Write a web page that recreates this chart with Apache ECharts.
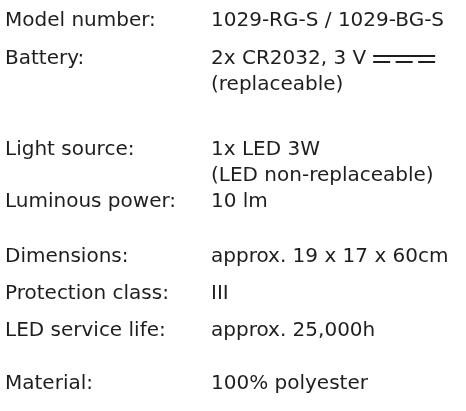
<!DOCTYPE html>
<html>
<head>
<meta charset="utf-8">
<script src="https://cdn.jsdelivr.net/npm/echarts@6/dist/echarts.min.js"></script>
<style>
  html, body { margin: 0; padding: 0; background: #fff; }
  #main { width: 466px; height: 411px; }
</style>
</head>
<body>
<div id="main"></div>
<script>
// spec sheet rows
const labels = ['Model number:', 'Battery:', 'Light source:', 'Luminous power:',
  'Dimensions:', 'Protection class:', 'LED service life:', 'Material:'];
const values = [
  ['1029-RG-S / 1029-BG-S'],
  ['2x CR2032, 3 V', '(replaceable)'],
  ['1x LED 3W', '(LED non-replaceable)'],
  ['10 lm'],
  ['approx. 19 x 17 x 60cm'],
  ['III'],
  ['approx. 25,000h'],
  ['100% polyester']
];
const dcRow = 1; // row whose first line ends with the DC symbol

// layout
const font = '20px "DejaVu Sans"';
const color = '#1e1e1e';
const labelX = 5, valueX = 211;
const firstY = 21, lineH = 26;
const gapBefore = [0, 12, 39, 0, 29, 11, 11, 27];

const chart = echarts.init(document.getElementById('main'), null, { renderer: 'canvas' });

const ctx = document.createElement('canvas').getContext('2d');
ctx.font = font;

const elements = [];
let y = firstY;
labels.forEach(function (lab, i) {
  if (i > 0) y += gapBefore[i];
  elements.push({
    type: 'text', x: labelX, y: y,
    style: { text: lab, font: font, fill: color, verticalAlign: 'middle' }
  });
  values[i].forEach(function (line, j) {
    const ly = y + j * lineH;
    elements.push({
      type: 'text', x: valueX, y: ly,
      style: { text: line, font: font, fill: color, verticalAlign: 'middle' }
    });
    if (i === dcRow && j === 0) {
      // DC symbol: solid line over a dashed one
      const sx = valueX + ctx.measureText(line).width + 7;
      const w = 62;
      elements.push({
        type: 'line',
        shape: { x1: sx, y1: ly - 3, x2: sx + w, y2: ly - 3 },
        style: { stroke: color, lineWidth: 2 }
      });
      elements.push({
        type: 'line',
        shape: { x1: sx, y1: ly + 3, x2: sx + w, y2: ly + 3 },
        style: { stroke: color, lineWidth: 2, lineDash: [17, 5.5] }
      });
    }
  });
  y += values[i].length * lineH;
});

chart.setOption({
  backgroundColor: '#fff',
  animation: false,
  graphic: { elements: elements }
});
</script>
</body>
</html>
